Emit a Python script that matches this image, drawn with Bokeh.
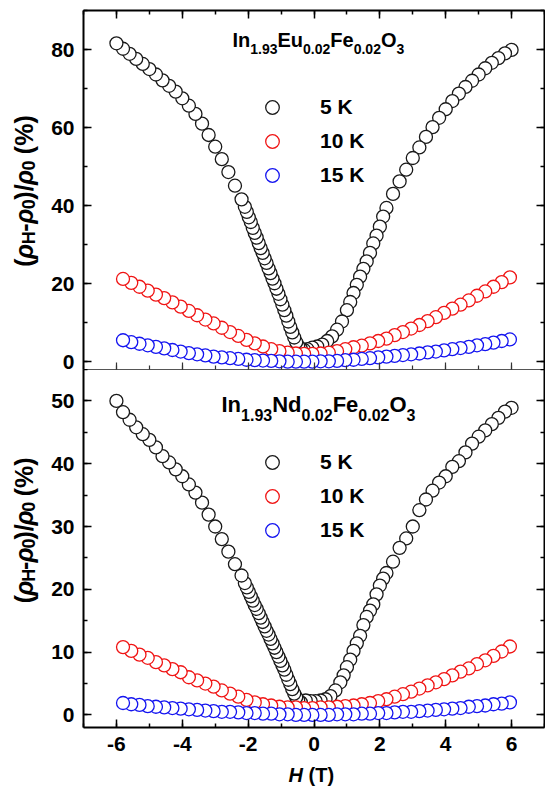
import math
from bokeh.plotting import figure
from bokeh.layouts import column, row
from bokeh.models import (LinearAxis, SingleIntervalTicker, Range1d, Label, Legend,
                          LegendItem, CustomJSTickFormatter, ColumnDataSource)
from bokeh.embed import file_html
from bokeh.resources import INLINE

# ---------------- data ----------------
TEMPS = ["5 K", "10 K", "15 K"]
COLORS = ["#1a1a1a", "#f01414", "#1414f0"]

H_TOP_5K = [-6.0, -5.8, -5.6, -5.4, -5.2, -5.0, -4.8, -4.6, -4.4, -4.2, -4.0, -3.8, -3.6, -3.4, -3.2,
            -3.0, -2.8, -2.6, -2.4, -2.2,
            -2.10, -2.04, -1.98, -1.92, -1.86, -1.80, -1.74, -1.68, -1.62, -1.56, -1.50, -1.44, -1.38,
            -1.32, -1.26, -1.20, -1.14, -1.08, -1.02, -0.96, -0.90, -0.84, -0.78, -0.72, -0.66, -0.60,
            -0.54, -0.48,
            -0.40, -0.30, -0.20, -0.05, 0.10, 0.25, 0.40, 0.55, 0.70, 0.85,
            1.0, 1.1, 1.2, 1.3, 1.4, 1.5, 1.6, 1.7, 1.8, 1.9, 2.0, 2.1, 2.2,
            2.4, 2.6, 2.8, 3.0, 3.2, 3.4, 3.6, 3.8, 4.0, 4.2, 4.4, 4.6, 4.8, 5.0, 5.2, 5.4, 5.6, 5.8, 6.0]
MR_TOP_5K = [81.6, 80.2, 78.9, 77.6, 76.3, 75.0, 73.6, 72.1, 70.7, 69.2, 67.5, 65.6, 63.5, 61.0, 58.1,
             55.1, 51.9, 48.6, 45.1, 41.6,
             39.7, 38.4, 37.0, 35.8, 34.3, 33.0, 31.8, 30.4, 29.1, 27.9, 26.5, 25.3, 23.9,
             22.7, 21.3, 20.1, 18.7, 17.4, 16.0, 14.6, 13.2, 11.8, 10.3, 8.9, 7.5, 6.2,
             5.0, 4.0,
             3.3, 3.0, 3.2, 3.6, 3.9, 4.4, 5.3, 6.5, 8.2, 10.3,
             13.2, 15.3, 17.6, 19.7, 21.8, 23.8, 25.7, 27.9, 30.3, 32.3, 34.6, 37.2, 39.4,
             43.0, 46.2, 49.2, 52.2, 54.9, 57.6, 60.1, 62.5, 64.7, 66.8, 68.7, 70.4, 72.0, 73.6, 75.2,
             76.6, 77.8, 79.0, 79.9]

H_GRID = [-5.80, -5.55, -5.30, -5.05, -4.80, -4.55, -4.30, -4.05, -3.80, -3.55, -3.30, -3.05,
          -2.80, -2.55, -2.30, -2.05, -1.80, -1.55, -1.30, -1.05, -0.80, -0.55, -0.30, -0.05,
          0.20, 0.45, 0.70, 0.95, 1.20, 1.45, 1.70, 1.95, 2.20, 2.45, 2.70, 2.95,
          3.20, 3.45, 3.70, 3.95, 4.20, 4.45, 4.70, 4.95, 5.20, 5.45, 5.70, 5.95]
MR_TOP_10K = [21.2, 20.2, 19.2, 18.2, 17.2, 16.3, 15.2, 14.1, 13.0, 11.9, 10.8, 9.8,
              8.7, 7.6, 6.6, 5.6, 4.7, 3.9, 3.2, 2.7, 2.3, 2.1, 2.0, 2.0,
              2.1, 2.3, 2.7, 3.2, 3.7, 4.1, 4.7, 5.3, 5.9, 6.8, 7.6, 8.5,
              9.4, 10.4, 11.4, 12.5, 13.6, 14.6, 15.7, 16.9, 18.0, 19.2, 20.4, 21.6]
MR_TOP_15K = [5.5, 5.0, 4.6, 4.2, 3.8, 3.4, 3.0, 2.6, 2.2, 1.9, 1.6, 1.3,
              1.1, 0.9, 0.7, 0.5, 0.4, 0.3, 0.2, 0.1, 0.0, 0.0, 0.0, 0.0,
              0.1, 0.1, 0.2, 0.4, 0.5, 0.7, 0.9, 1.1, 1.3, 1.5, 1.7, 1.9,
              2.1, 2.4, 2.6, 2.9, 3.2, 3.5, 3.8, 4.2, 4.5, 4.9, 5.3, 5.7]

H_BOT_5K = [-6.0, -5.8, -5.6, -5.4, -5.2, -5.0, -4.8, -4.6, -4.4, -4.2, -4.0, -3.8, -3.6, -3.4, -3.2,
            -3.0, -2.8, -2.6, -2.4, -2.2,
            -2.10, -2.04, -1.98, -1.92, -1.86, -1.80, -1.74, -1.68, -1.62, -1.56, -1.50, -1.44, -1.38,
            -1.32, -1.26, -1.20, -1.14, -1.08, -1.02, -0.96, -0.90, -0.84, -0.78, -0.72, -0.66, -0.60,
            -0.54, -0.48,
            -0.40, -0.25, -0.10, 0.05, 0.20, 0.35, 0.50, 0.65, 0.80, 0.90,
            1.0, 1.1, 1.2, 1.3, 1.4, 1.5, 1.6, 1.7, 1.8, 1.9, 2.0, 2.1, 2.2,
            2.4, 2.6, 2.8, 3.0, 3.2, 3.4, 3.6, 3.8, 4.0, 4.2, 4.4, 4.6, 4.8, 5.0, 5.2, 5.4, 5.6, 5.8, 6.0]
MR_BOT_5K = [50.0, 48.2, 47.0, 45.8, 44.7, 43.8, 42.6, 41.2, 40.2, 39.1, 38.0, 36.7, 35.4, 33.8, 31.9,
             30.0, 28.0, 26.0, 24.0, 22.2,
             21.0, 20.3, 19.6, 18.9, 18.2, 17.5, 16.9, 16.2, 15.5, 14.8, 14.1, 13.4, 12.8,
             12.1, 11.4, 10.7, 10.0, 9.3, 8.6, 7.9, 7.2, 6.4, 5.6, 4.9, 4.1, 3.4,
             2.8, 2.3,
             2.0, 2.3, 2.2, 2.2, 2.3, 2.5, 3.0, 3.9, 5.2, 6.3,
             7.6, 8.8, 10.2, 11.4, 12.6, 14.3, 15.6, 16.6, 17.6, 19.2, 20.6, 21.7, 22.6,
             24.4, 26.6, 28.1, 30.0, 32.6, 34.3, 35.7, 37.0, 38.0, 39.5, 40.4, 41.8, 43.2, 44.3, 45.3,
             46.3, 47.3, 48.3, 48.9]
MR_BOT_10K = [10.8, 10.2, 9.6, 9.1, 8.4, 7.9, 7.3, 6.8, 6.0, 5.5, 5.0, 4.5,
              3.9, 3.4, 2.9, 2.4, 2.0, 1.7, 1.5, 1.3, 1.2, 1.2, 1.1, 1.1,
              1.2, 1.2, 1.3, 1.4, 1.5, 1.7, 1.9, 2.2, 2.5, 2.9, 3.3, 3.7,
              4.2, 4.7, 5.2, 5.7, 6.3, 6.9, 7.4, 8.1, 8.7, 9.4, 10.1, 10.9]
MR_BOT_15K = [1.9, 1.7, 1.6, 1.4, 1.3, 1.2, 1.1, 1.0, 0.9, 0.8, 0.7, 0.6,
              0.5, 0.5, 0.4, 0.3, 0.3, 0.2, 0.2, 0.1, 0.1, 0.0, 0.0, 0.0,
              0.0, 0.0, 0.1, 0.1, 0.1, 0.2, 0.2, 0.3, 0.3, 0.4, 0.5, 0.5,
              0.6, 0.7, 0.8, 0.9, 1.0, 1.1, 1.3, 1.4, 1.5, 1.7, 1.8, 2.0]

TOP_TITLE = [("In", 0), ("1.93", 1), ("Eu", 0), ("0.02", 1), ("Fe", 0), ("0.02", 1), ("O", 0), ("3", 1)]
BOT_TITLE = [("In", 0), ("1.93", 1), ("Nd", 0), ("0.02", 1), ("Fe", 0), ("0.02", 1), ("O", 0), ("3", 1)]
Y_LABEL = [("(", 0, "bold"), ("ρ", 0, "bold italic"), ("H", 1, "bold"), ("-", 0, "bold"),
           ("ρ", 0, "bold italic"), ("0", 1, "bold"), (")/", 0, "bold"),
           ("ρ", 0, "bold italic"), ("0", 1, "bold"), (" (%)", 0, "bold")]

# ---------------- styling helpers ----------------
FONT = "Liberation Sans"
ADV = {'(': .333, ')': .333, '-': .333, '/': .278, ' ': .278, '%': .889, 'ρ': .611, 'H': .722,
       '0': .556, '1': .556, '2': .556, '3': .556, '9': .556, '.': .278, 'I': .278, 'n': .611,
       'E': .667, 'u': .611, 'F': .611, 'e': .556, 'O': .778, 'N': .722, 'd': .611, 'T': .611}


def tw(s, size):
    return sum(ADV.get(c, .556) for c in s) * size


X0, X1 = -7, 7
LAB_W = 45          # width of the strip that holds the rotated y titles
MAIN_W = 500        # width of each plot figure
OVER = 6            # the lower row slides up under the upper one by this many pixels
H1, H2, H3 = 369 + OVER, 394, 24
TICK_FMT = "return tick.toFixed(0)"


def make_axes(p, ymaj, show_xlabels):
    xt = SingleIntervalTicker(interval=2, num_minor_ticks=2)
    yt = SingleIntervalTicker(interval=ymaj, num_minor_ticks=2)
    blank = CustomJSTickFormatter(code="return ''")
    common = dict(major_tick_out=0, minor_tick_out=0, major_tick_in=8, minor_tick_in=4,
                  major_tick_line_width=1.5, minor_tick_line_width=1.5,
                  major_tick_line_color="black", minor_tick_line_color="black")
    lab = dict(major_label_text_font=FONT, major_label_text_font_size="21px",
               major_label_text_font_style="bold", major_label_text_color="black")
    left = LinearAxis(ticker=yt, axis_line_width=2, major_label_standoff=9,
                      formatter=CustomJSTickFormatter(code=TICK_FMT), **lab, **common)
    p.add_layout(left, "left")
    right = LinearAxis(ticker=yt, axis_line_width=2, formatter=blank, major_label_standoff=0,
                       major_label_text_font_size="0px", **common)
    p.add_layout(right, "right")
    if show_xlabels:
        below = LinearAxis(ticker=xt, axis_line_width=2, major_label_standoff=9,
                           formatter=CustomJSTickFormatter(code=TICK_FMT), **lab, **common)
        p.add_layout(below, "below")
    else:
        c2 = dict(common)
        c2.update(major_tick_in=7, major_tick_line_width=1.2, minor_tick_line_width=1.2,
                  major_tick_line_color="#333333", minor_tick_line_color="#333333")
        below = LinearAxis(ticker=xt, axis_line_width=1, axis_line_color="#555555",
                           formatter=blank, major_label_standoff=0,
                           major_label_text_font_size="0px", **c2)
        p.add_layout(below, "below")
        above = LinearAxis(ticker=xt, axis_line_width=2, formatter=blank, major_label_standoff=0,
                           major_label_text_font_size="0px", **common)
        p.add_layout(above, "above")


def add_series(p, hs, ys, color):
    src = ColumnDataSource(dict(h=hs[::-1], v=ys[::-1]))
    return p.scatter("h", "v", source=src, marker="circle", size=13, line_color=color,
                     fill_color="white", line_width=1.3)


def add_title(p, ax, ay, x_off, main_c, sub_c, pieces, main, sub):
    x = x_off
    for t, is_sub in pieces:
        s = sub if is_sub else main
        p.add_layout(Label(x=ax, y=ay, x_offset=x, y_offset=-(sub_c if is_sub else main_c),
                           text=t, text_font=FONT, text_font_size=f"{s}px", text_font_style="bold",
                           text_color="black", text_align="left", text_baseline="middle"))
        x += tw(t, s)


def add_legend(p, renderers, loc):
    items = [LegendItem(label=t, renderers=[r]) for t, r in zip(TEMPS, renderers)]
    lg = Legend(items=items, location=loc, orientation="vertical", glyph_width=38, glyph_height=34,
                label_height=34, label_standoff=29, spacing=0, padding=0, margin=0,
                border_line_color=None, background_fill_alpha=0,
                label_text_font=FONT, label_text_font_size="21px", label_text_font_style="bold",
                label_text_color="black")
    p.add_layout(lg, "center")


def blank_fig(w, h):
    f = figure(width=w, height=h, x_range=Range1d(0, w), y_range=Range1d(0, h),
               output_backend="svg", toolbar_location=None, x_axis_location=None,
               y_axis_location=None, min_border=0, outline_line_color=None,
               background_fill_color=None, border_fill_color=None)
    f.grid.visible = False
    return f


def ylabel_fig(h, center_y):
    f = blank_fig(LAB_W, h)
    main, sub = 25, 18
    total = sum(tw(t, sub if s else main) for t, s, _ in Y_LABEL)
    y = center_y - total / 2
    for t, is_sub, style in Y_LABEL:
        size = sub if is_sub else main
        if t.startswith(" "):
            y += tw(" ", size)
            t = t.strip()
        f.add_layout(Label(x=23 + (5 if is_sub else 0), y=y, angle=math.pi / 2, text=t,
                           text_font=FONT, text_font_size=f"{size}px", text_font_style=style,
                           text_color="black", text_align="left", text_baseline="middle"))
        y += tw(t, size)
    return f


# ---------------- top panel ----------------
p1 = figure(width=MAIN_W, height=H1, x_range=Range1d(X0, X1), y_range=Range1d(-2, 90),
            output_backend="svg", toolbar_location=None, x_axis_location=None,
            y_axis_location=None, min_border_left=83 - LAB_W, min_border_right=1,
            min_border_top=10, min_border_bottom=OVER, outline_line_color=None)
p1.grid.visible = False
make_axes(p1, 20, False)
r1 = [add_series(p1, H_TOP_5K, MR_TOP_5K, COLORS[0]),
      add_series(p1, H_GRID, MR_TOP_10K, COLORS[1]),
      add_series(p1, H_GRID, MR_TOP_15K, COLORS[2])]
add_legend(p1, r1, (170, 177))
add_title(p1, X0, 90, 149, 29.7, 38.3, TOP_TITLE, 20, 14)

# ---------------- bottom panel ----------------
p2 = figure(width=MAIN_W, height=H2, x_range=p1.x_range, y_range=Range1d(-2, 55),
            output_backend="svg", toolbar_location=None, x_axis_location=None,
            y_axis_location=None, min_border_left=83 - LAB_W, min_border_right=1,
            min_border_top=0, min_border_bottom=36, outline_line_color=None,
            border_fill_color=None, background_fill_color=None)
p2.grid.visible = False
make_axes(p2, 10, True)
r2 = [add_series(p2, H_BOT_5K, MR_BOT_5K, COLORS[0]),
      add_series(p2, H_GRID, MR_BOT_10K, COLORS[1]),
      add_series(p2, H_GRID, MR_BOT_15K, COLORS[2])]
add_legend(p2, r2, (170, 180))
add_title(p2, X0, 55, 138, 35, 45, BOT_TITLE, 22, 16)

# ---------------- title strips ----------------
yl1 = ylabel_fig(H1, H1 - 189.5)
yl2 = ylabel_fig(H2, H2 - 179)
xl = blank_fig(LAB_W + MAIN_W, H3)
xl.add_layout(Label(x=288, y=13, text="H", text_font=FONT, text_font_size="20px",
                    text_font_style="bold italic", text_color="black",
                    text_align="left", text_baseline="middle"))
xl.add_layout(Label(x=288 + tw("H ", 20), y=13, text="(T)", text_font=FONT,
                    text_font_size="20px", text_font_style="bold", text_color="black",
                    text_align="left", text_baseline="middle"))

top_row = row(yl1, p1, spacing=0)
bottom_row = row(yl2, p2, spacing=0, margin=(-OVER, 0, 0, 0))
layout = column(top_row, bottom_row, xl, spacing=0)
open("out.html", "w").write(file_html(layout, INLINE))
